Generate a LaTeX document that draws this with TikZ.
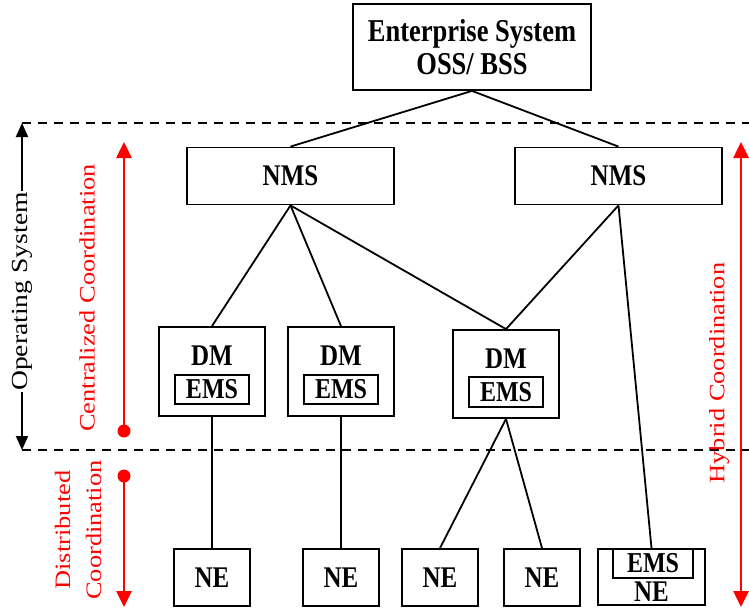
\documentclass[tikz,border=0pt]{standalone}
\usepackage{fontspec}
\setmainfont{Liberation Serif}
\usetikzlibrary{arrows.meta}
\definecolor{coordred}{RGB}{255,0,0}
% tall letters for horizontal labels, long letters for vertical labels
\newcommand\talltext[1]{\scalebox{1}[1.2]{#1}}
\newcommand\longtext[1]{\scalebox{1.2}[1]{#1}}

\begin{document}
\begin{tikzpicture}[x=1pt,y=-1pt,
  box/.style={draw, line width=1.8pt, inner sep=0pt, align=center,
    font=\fontsize{25}{31}\selectfont\bfseries},
  lbl/.style={inner sep=0pt, font=\fontsize{25}{31}\selectfont\bfseries},
  emsfont/.style={font=\fontsize{24}{28}\selectfont\bfseries},
  link/.style={line width=1.8pt},
  zone/.style={line width=1.6pt, dash pattern=on 9pt off 7pt},
  redarrow/.style={draw=coordred, line width=2.6pt},
  redtext/.style={text=coordred, rotate=90, align=center, inner sep=0pt,
    font=\fontsize{22}{31}\selectfont},
  tipred/.tip={Triangle[length=16pt,width=15pt]},
  tipblack/.tip={Triangle[length=14pt,width=12pt]}
]
\useasboundingbox (0,0) rectangle (749,610);

% zone boundaries of the operating system
\draw[zone] (22,123) -- (749,123);
\draw[zone] (22,450) -- (749,450);

% top level
\node[box, minimum width=238, minimum height=86,
  font=\fontsize{26.5}{33}\selectfont\bfseries] (ent) at (472,47)
  {\talltext{Enterprise System}\\\talltext{OSS/ BSS}};

% network management systems
\node[box, minimum width=207, minimum height=57] (nms1) at (290.5,176) {\talltext{NMS}};
\node[box, minimum width=207, minimum height=57] (nms2) at (618.5,176) {\talltext{NMS}};

% domain managers with their EMS
\node[box, minimum width=106, minimum height=89] (dm1) at (212,371.5) {};
\node[lbl] (dm1t) at (212,356) {\talltext{DM}};
\node[box, emsfont, minimum width=74, minimum height=29] (ems1) at (212,389.5) {\talltext{EMS}};

\node[box, minimum width=106, minimum height=89] (dm2) at (341,371.5) {};
\node[lbl] (dm2t) at (341,356) {\talltext{DM}};
\node[box, emsfont, minimum width=74, minimum height=29] (ems2) at (341,389.5) {\talltext{EMS}};

\node[box, minimum width=106, minimum height=88] (dm3) at (506,374) {};
\node[lbl] (dm3t) at (506,359) {\talltext{DM}};
\node[box, emsfont, minimum width=74, minimum height=30] (ems3) at (506,392) {\talltext{EMS}};

% network elements
\node[box, minimum width=76, minimum height=57] (ne1) at (212,577.5) {\talltext{NE}};
\node[box, minimum width=76, minimum height=57] (ne2) at (341,577.5) {\talltext{NE}};
\node[box, minimum width=76, minimum height=57] (ne3) at (440,577.5) {\talltext{NE}};
\node[box, minimum width=76, minimum height=57] (ne4) at (542,577.5) {\talltext{NE}};
\node[box, minimum width=107, minimum height=56] (ne5) at (651.5,577) {};
\node[box, emsfont, minimum width=80, minimum height=29] (ems5) at (653,563.5) {\talltext{EMS}};
\node[lbl] (ne5t) at (651.5,592) {\talltext{NE}};

% connections
\draw[link] (ent.south) -- (nms1.north);
\draw[link] (ent.south) -- (nms2.north);
\draw[link] (nms1.south) -- (dm1.north);
\draw[link] (nms1.south) -- (dm2.north);
\draw[link] (nms1.south) -- (dm3.north);
\draw[link] (nms2.south) -- (dm3.north);
\draw[link] (nms2.south) -- (ne5.north);
\draw[link] (dm1.south) -- (ne1.north);
\draw[link] (dm2.south) -- (ne2.north);
\draw[link] (dm3.south) -- (ne3.north);
\draw[link] (dm3.south) -- (ne4.north);

% operating system extent
\coordinate (ostop) at (22,123);
\coordinate (osbot) at (22,450);
\draw[line width=2pt, {tipblack}-{tipblack}] (ostop) -- (osbot);
\node[fill=white, rotate=90, inner sep=1pt, font=\fontsize{23}{31}\selectfont] (os) at (22,291.5) {\longtext{Operating System}};

% centralized coordination
\coordinate (ctop) at (124,142);
\coordinate (cbot) at (124,431);
\draw[redarrow, -{tipred}] (cbot) -- (ctop);
\fill[coordred] (cbot) circle (6.5);
\node[redtext] (ctext) at (87,298) {\longtext{Centralized Coordination}};

% distributed coordination
\coordinate (dtop) at (124,476);
\coordinate (dbot) at (124,607);
\draw[redarrow, -{tipred}] (dtop) -- (dbot);
\fill[coordred] (dtop) circle (6.5);
\node[redtext] (dtext) at (78,530) {\longtext{Distributed}\\\longtext{Coordination}};

% hybrid coordination
\coordinate (htop) at (741,142);
\coordinate (hbot) at (741,607);
\draw[redarrow, {tipred}-{tipred}] (htop) -- (hbot);
\node[redtext] (htext) at (719,373) {\longtext{Hybrid Coordination}};
\end{tikzpicture}
\end{document}
